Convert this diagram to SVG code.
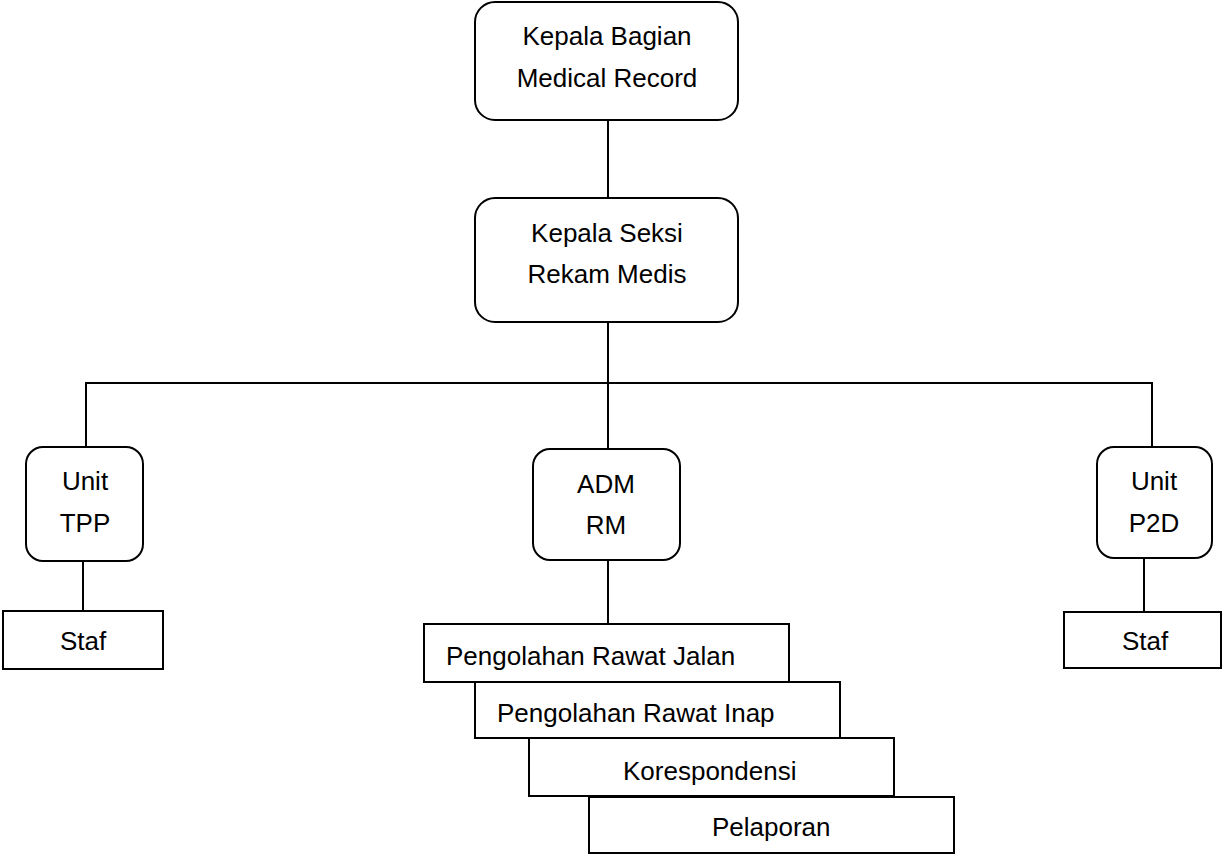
<svg xmlns="http://www.w3.org/2000/svg" width="1223" height="857" viewBox="0 0 1223 857">
<style>
.box{fill:#fff;stroke:#000;stroke-width:2}
.ln{fill:none;stroke:#000;stroke-width:2}
text{font-family:"Liberation Sans",Arial,sans-serif;font-size:26px;fill:#000}
.c{text-anchor:middle}
</style>
<rect width="1223" height="857" fill="#fff"/>
<g id="connectors">
<path class="ln" d="M608 120V198"/>
<path class="ln" d="M608 322V383"/>
<path class="ln" d="M86 447V383H1152V447"/>
<path class="ln" d="M608 383V449"/>
<path class="ln" d="M83 561V611"/>
<path class="ln" d="M608 560V624"/>
<path class="ln" d="M1144 558V612"/>
</g>
<g id="kepala-bagian">
<rect class="box" x="475" y="2" width="263" height="118" rx="20"/>
<text class="c" x="607" y="45">Kepala Bagian</text>
<text class="c" x="607" y="87">Medical Record</text>
</g>
<g id="kepala-seksi">
<rect class="box" x="475" y="198" width="263" height="124" rx="20"/>
<text class="c" x="607" y="242">Kepala Seksi</text>
<text class="c" x="607" y="283">Rekam Medis</text>
</g>
<g id="unit-tpp">
<rect class="box" x="26" y="447" width="117" height="114" rx="17"/>
<text class="c" x="85" y="490">Unit</text>
<text class="c" x="85" y="532">TPP</text>
</g>
<g id="adm-rm">
<rect class="box" x="533" y="449" width="147" height="111" rx="17"/>
<text class="c" x="606" y="493">ADM</text>
<text class="c" x="606" y="534">RM</text>
</g>
<g id="unit-p2d">
<rect class="box" x="1097" y="447" width="115" height="111" rx="17"/>
<text class="c" x="1154" y="490">Unit</text>
<text class="c" x="1154" y="532">P2D</text>
</g>
<g id="staf-tpp">
<rect class="box" x="3" y="611" width="160" height="58"/>
<text class="c" x="83" y="650">Staf</text>
</g>
<g id="staf-p2d">
<rect class="box" x="1064" y="612" width="157" height="56"/>
<text class="c" x="1145" y="650">Staf</text>
</g>
<g id="rawat-jalan">
<rect class="box" x="424" y="624" width="365" height="58"/>
<text x="446" y="665">Pengolahan Rawat Jalan</text>
</g>
<g id="rawat-inap">
<rect class="box" x="475" y="682" width="365" height="56"/>
<text x="497" y="722">Pengolahan Rawat Inap</text>
</g>
<g id="korespondensi">
<rect class="box" x="529" y="738" width="365" height="58"/>
<text x="623" y="780">Korespondensi</text>
</g>
<g id="pelaporan">
<rect class="box" x="589" y="797" width="365" height="56"/>
<text x="712" y="836">Pelaporan</text>
</g>
</svg>
